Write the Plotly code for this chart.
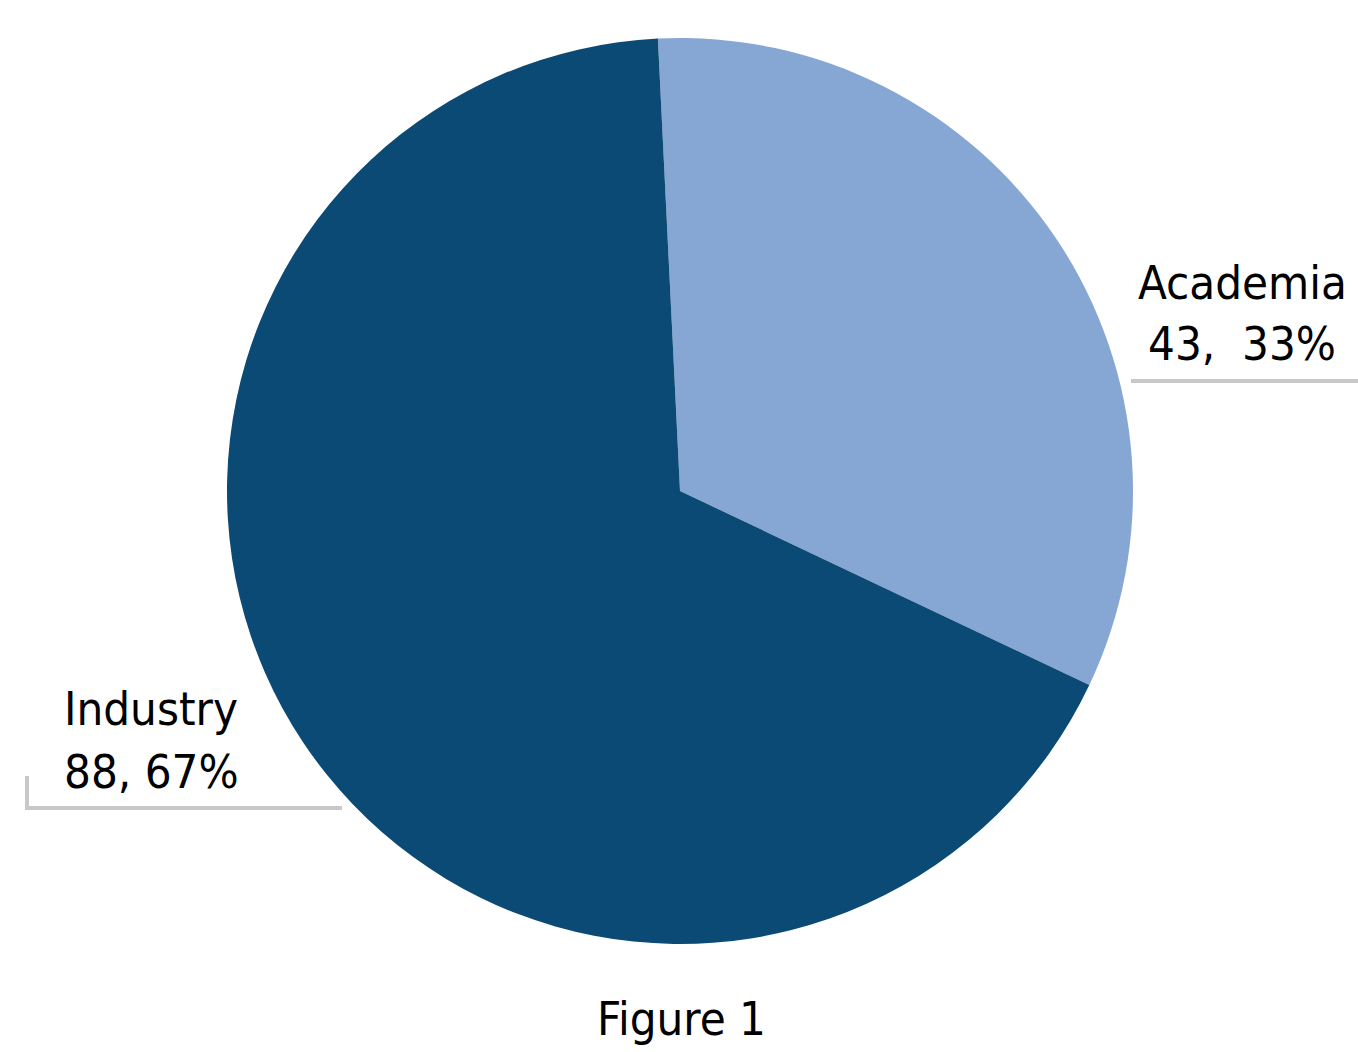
import plotly.graph_objects as go

labels = ["Academia", "Industry"]
values = [43, 88]
colors = ["#86A6D4", "#0B4A75"]
separators = [",  ", ", "]
title_text = "Figure 1"

total = sum(values)
W, H = 1358, 1052
FONT = "DejaVu Sans Condensed, Liberation Sans Narrow, sans-serif"
FS = 47

fig = go.Figure(go.Pie(
    labels=labels, values=values, sort=False, direction="clockwise",
    rotation=-2.8, marker=dict(colors=colors, line=dict(width=0)),
    textinfo="none", hoverinfo="label+value+percent", showlegend=False,
    domain=dict(x=[227 / W, 1133 / W], y=[1 - 944 / H, 1 - 38 / H]),
))

def px(x):
    return x / W

def py(y):
    return 1 - y / H

label_pos = {"Academia": (1242, 282, 343), "Industry": (151, 708, 771)}
anns = []
for lab, val, sep in zip(labels, values, separators):
    cx, y1, y2 = label_pos[lab]
    pct = round(100 * val / total)
    anns.append(dict(x=px(cx), y=py(y1), text=lab, showarrow=False, xref="paper", yref="paper",
                     xanchor="center", yanchor="middle", font=dict(family=FONT, size=FS, color="#000")))
    anns.append(dict(x=px(cx), y=py(y2), text=f"{val}{sep}{pct}%", showarrow=False, xref="paper", yref="paper",
                     xanchor="center", yanchor="middle", font=dict(family=FONT, size=FS, color="#000")))
anns.append(dict(x=px(681), y=py(1018), text=title_text, showarrow=False, xref="paper", yref="paper",
                 xanchor="center", yanchor="middle", font=dict(family=FONT, size=FS, color="#000")))

line_style = dict(color="#C8C8C8", width=4)
shapes = [
    dict(type="line", xref="paper", yref="paper", x0=px(1131), y0=py(381), x1=px(1358), y1=py(381), line=line_style),
    dict(type="line", xref="paper", yref="paper", x0=px(27), y0=py(776), x1=px(27), y1=py(808), line=line_style),
    dict(type="line", xref="paper", yref="paper", x0=px(25), y0=py(808), x1=px(342), y1=py(808), line=line_style),
]

fig.update_layout(width=W, height=H, margin=dict(l=0, r=0, t=0, b=0),
                  paper_bgcolor="white", plot_bgcolor="white",
                  annotations=anns, shapes=shapes)
fig.write_html("out.html", config={"displayModeBar": False},
               post_script="document.body.style.margin='0';document.body.style.overflow='hidden';")
